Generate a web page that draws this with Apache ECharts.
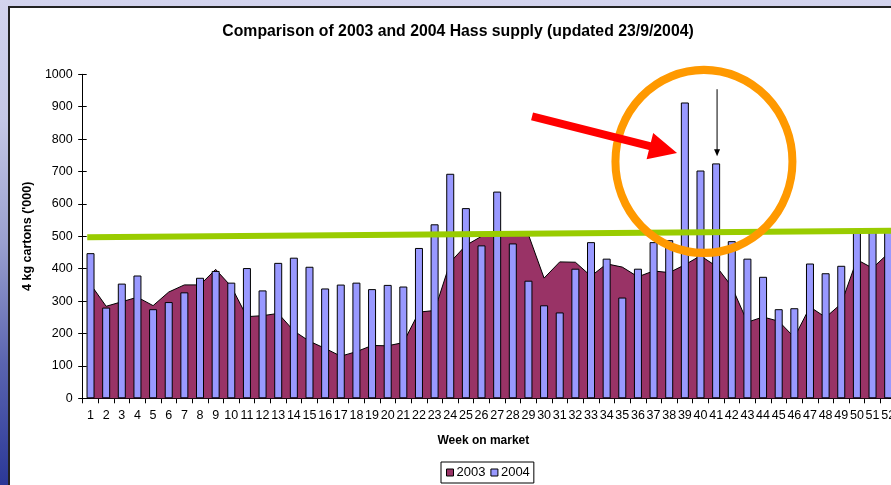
<!DOCTYPE html>
<html><head><meta charset="utf-8">
<script src="https://cdn.jsdelivr.net/npm/echarts@6/dist/echarts.min.js"></script>
<style>
html,body{margin:0;padding:0;width:891px;height:485px;overflow:hidden;}
body{position:relative;background:linear-gradient(to bottom,#d3d4ee 0%,#c4c7e6 25%,#9aa0cf 50%,#5a64b0 75%,#2b3897 100%);}
#panel{position:absolute;left:8px;top:6px;width:900px;height:500px;background:#fff;border-left:2px solid #222;border-top:2px solid #222;}
#chart{position:absolute;left:0;top:0;width:891px;height:485px;}
</style></head><body>
<div id="panel"></div>
<div id="chart"></div>
<script>
// ---- data ----
const weeks = ['1','2','3','4','5','6','7','8','9','10','11','12','13','14','15','16','17','18','19','20','21','22','23','24','25','26','27','28','29','30','31','32','33','34','35','36','37','38','39','40','41','42','43','44','45','46','47','48','49','50','51','52'];
const supply2003 = [352,284,298,312,286,328,350,350,398,345, 252,255,262,208,176,154,130,144,163,162, 172,266,271,420,472,500,505,505,505,371, 421,420,377,415,405,375,393,388,412,440, 408,345,235,251,238,188,282,250,292,428, 402,447];
const supply2004 = [448,280,354,379,275,297,327,372,393,357, 402,333,418,434,406,339,351,357,337,350, 345,464,537,693,587,472,638,478,363,287, 265,400,482,431,311,400,482,488,913,703, 725,485,431,375,275,278,416,386,409,515, 518,520];
const yMin = 0, yMax = 1000, yStep = 100;
// annotation anchors in data space (x: week scale, 0 = left edge of week 1)
const trendLine = [[0.29, 497], [52, 517]];
const circleCenter = [39.72, 731];
const redArrowTail = [28.73, 870];
const redArrowTip = [38.0, 757];
const blackArrowTop = [40.56, 954];
const blackArrowTip = [40.56, 747];

const FONT = 'Liberation Sans, Arial, sans-serif';
const chart = echarts.init(document.getElementById('chart'));
const option = {
  backgroundColor: 'transparent',
  animation: false,
  title: {
    text: 'Comparison of 2003 and 2004 Hass supply (updated 23/9/2004)',
    left: 458, top: 24, textAlign: 'center', padding: 0,
    textStyle: {fontFamily: FONT, fontSize: 15.8, fontWeight: 'bold', color: '#000'}
  },
  legend: {
    data: [
      {name: '2003', icon: 'rect', itemStyle: {color: '#993366', borderColor: '#000', borderWidth: 1}},
      {name: '2004', icon: 'rect', itemStyle: {color: '#9999FF', borderColor: '#000', borderWidth: 1}}
    ],
    left: 441, top: 462, orient: 'horizontal',
    padding: [4, 4, 4, 5], itemWidth: 7, itemHeight: 7, itemGap: 5,
    borderColor: '#000', borderWidth: 1, backgroundColor: '#fff',
    textStyle: {fontFamily: FONT, fontSize: 13, color: '#000', padding: [0,0,0,-2]}
  },
  grid: {left: 82.7, top: 74.3, width: 813.3, height: 324, containLabel: false, outerBoundsMode: 'none'},
  xAxis: [{
    type: 'category', data: weeks, boundaryGap: true,
    name: 'Week on market', nameLocation: 'middle', nameGap: 36,
    nameTextStyle: {fontFamily: FONT, fontSize: 12, fontWeight: 'bold', color: '#000', padding: [0, 12, 0, 0]},
    axisLine: {lineStyle: {color: '#000', width: 1}},
    axisTick: {show: true, length: 5, lineStyle: {color: '#000'}},
    axisLabel: {interval: 0, hideOverlap: false, margin: 11, fontFamily: FONT, fontSize: 12.5, color: '#000'},
    splitLine: {show: false}
  }, {
    type: 'value', min: 0, max: 52, show: false
  }],
  yAxis: [{
    type: 'value', min: yMin, max: yMax, interval: yStep,
    name: "4 kg cartons ('000)", nameLocation: 'middle', nameGap: 38, nameRotate: 90,
    nameTextStyle: {fontFamily: FONT, fontSize: 12.5, fontWeight: 'bold', color: '#000'},
    axisLine: {show: true, lineStyle: {color: '#000', width: 1}},
    axisTick: {show: true, length: 4.5, lineStyle: {color: '#000'}},
    axisLabel: {margin: 10, fontFamily: FONT, fontSize: 12.5, color: '#000', formatter: function(v){ return String(v); }},
    splitLine: {show: false}
  }, {
    type: 'value', min: yMin, max: yMax, interval: yStep, position: 'left',
    axisLine: {show: false}, axisLabel: {show: false},
    axisTick: {show: true, inside: true, length: 4, lineStyle: {color: '#000'}},
    splitLine: {show: false}
  }],
  series: [{
    name: '2003', type: 'line', data: supply2003, xAxisIndex: 0, yAxisIndex: 0,
    symbol: 'none', smooth: false, z: 1,
    itemStyle: {color: '#993366'},
    lineStyle: {color: '#000', width: 1},
    areaStyle: {color: '#993366', opacity: 1}
  }, {
    name: '2004', type: 'bar', data: supply2004, xAxisIndex: 0, yAxisIndex: 0,
    barWidth: 8, z: 2,
    itemStyle: {color: '#9999FF', borderColor: '#000', borderWidth: 1}
  }, {
    name: 'trend', type: 'line', data: trendLine, xAxisIndex: 1, yAxisIndex: 0,
    symbol: 'none', z: 5, silent: true,
    lineStyle: {color: '#99CC00', width: 6, cap: 'butt'}
  }]
};
chart.setOption(option);

// ---- annotations positioned through the chart's scales ----
function px(p){ return chart.convertToPixel({xAxisIndex: 1, yAxisIndex: 0}, p); }
const c = px(circleCenter);
const t = px(redArrowTail), h = px(redArrowTip);
const dx = h[0]-t[0], dy = h[1]-t[1], L = Math.hypot(dx, dy);
const ux = dx/L, uy = dy/L, nx = -uy, ny = ux;
const headLen = 28, headHalf = 13.5, shaftHalf = 4;
const bx = h[0]-ux*headLen, by = h[1]-uy*headLen;
const redPts = [
  [t[0]+nx*shaftHalf, t[1]+ny*shaftHalf],
  [bx+nx*shaftHalf, by+ny*shaftHalf],
  [bx+nx*headHalf, by+ny*headHalf],
  [h[0], h[1]],
  [bx-nx*headHalf, by-ny*headHalf],
  [bx-nx*shaftHalf, by-ny*shaftHalf],
  [t[0]-nx*shaftHalf, t[1]-ny*shaftHalf]
];
const ba = px(blackArrowTop), bb = px(blackArrowTip);
chart.setOption({
  graphic: [
    {type: 'circle', shape: {cx: 0, cy: 0, r: 88.5}, x: c[0], y: c[1], scaleY: 91.5/88.5,
     style: {fill: 'none', stroke: '#FF9900', lineWidth: 8}, z: 100},
    {type: 'polygon', shape: {points: redPts}, style: {fill: '#FF0000'}, z: 101},
    {type: 'line', shape: {x1: ba[0], y1: ba[1], x2: bb[0], y2: bb[1]-5}, style: {stroke: '#000', lineWidth: 1}, z: 101},
    {type: 'polygon', shape: {points: [[bb[0]-3, bb[1]-7], [bb[0]+3, bb[1]-7], [bb[0], bb[1]]]}, style: {fill: '#000'}, z: 101}
  ]
});
</script>
</body></html>
